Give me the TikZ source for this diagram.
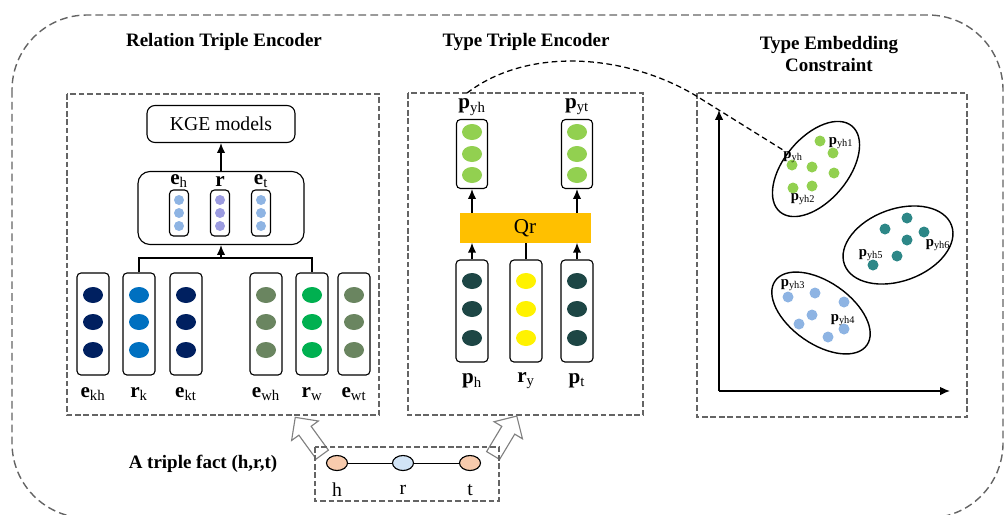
\documentclass[tikz,border=0pt]{standalone}
\usepackage{fontspec}
\setmainfont{Liberation Serif}
\usetikzlibrary{shapes.geometric,shapes.arrows,arrows.meta}

\definecolor{dgray}{RGB}{100,100,100}
\definecolor{navy}{RGB}{0,32,96}
\definecolor{kblue}{RGB}{0,112,192}
\definecolor{wgray}{RGB}{106,133,96}
\definecolor{wgreen}{RGB}{0,176,80}
\definecolor{lblue}{RGB}{142,180,227}
\definecolor{lpurple}{RGB}{155,155,224}
\definecolor{lgreen}{RGB}{146,208,80}
\definecolor{dteal}{RGB}{29,70,69}
\definecolor{qgold}{RGB}{255,192,0}
\definecolor{teal}{RGB}{45,135,135}
\definecolor{peach}{RGB}{248,203,173}
\definecolor{pale}{RGB}{210,228,246}

\newlength\pxu
\setlength\pxu{0.025cm}

\tikzset{
    ttl/.style={font=\bfseries\fontsize{13.5}{15.6}\selectfont, align=center},
    panel/.style={draw=dgray, line width=1pt, dash pattern=on 4pt off 2pt},
    vec/.style={draw, rounded corners=4\pxu, line width=0.8pt, inner sep=0pt, minimum width=32\pxu},
    dot/.style={ellipse, inner sep=0pt, minimum width=20\pxu, minimum height=16\pxu},
    pt/.style={circle, inner sep=0pt, minimum size=11\pxu},
    lab/.style={font=\fontsize{15}{17}\selectfont},
    sml/.style={font=\fontsize{10.5}{12}\selectfont, inner sep=0pt},
    cls/.style={draw, ellipse, line width=1pt, inner sep=0pt},
    hollow/.style={single arrow, draw=gray, fill=white, line width=0.8pt, inner xsep=0pt, inner ysep=7\pxu,
        single arrow head extend=9\pxu, minimum height=46\pxu}
}

\begin{document}
\begin{tikzpicture}[x=0.025cm, y=-0.025cm, >={Latex[length=7pt,width=6pt]}]
    \useasboundingbox (0,0) rectangle (1004,514);

    \draw[draw=dgray, line width=1pt, dash pattern=on 5.5pt off 3pt, rounded corners=75\pxu] (12,15) rectangle (1003,518);

    \node[ttl] (t1) at (224,42) {Relation Triple Encoder};
    \node[ttl] (t2) at (526,42) {Type Triple Encoder};
    \node[ttl] (t3) at (829,54) {Type Embedding\\Constraint};

    \draw[panel] (67,94) rectangle (379,415);
    \draw[panel] (408,93) rectangle (643,415);
    \draw[panel] (697,93) rectangle (967,417);

    % relation triple encoder
    \node[draw, rounded corners=8\pxu, line width=0.8pt, minimum width=148\pxu, minimum height=37\pxu,
        font=\fontsize{14}{16}\selectfont] (kge) at (221,124) {KGE models};
    \node[draw, rounded corners=12\pxu, line width=0.8pt, minimum width=166\pxu, minimum height=73\pxu] (emb) at (221,208) {};
    \foreach \n/\x/\c/\t in {eh/179/lblue/{\textbf{e}\textsubscript{h}}, r/220/lpurple/{\textbf{r}}, et/261/lblue/{\textbf{e}\textsubscript{t}}}{
        \node[vec, minimum width=19\pxu, minimum height=46\pxu] (\n) at (\x,213) {};
        \foreach \y in {200,213,226} \node[circle, inner sep=0pt, minimum size=10\pxu, fill=\c] (\n-\y) at (\x,\y) {};
        \node[lab, inner sep=0pt] (\n-l) at (\x,181) {\t};
    }
    \foreach \n/\x/\c/\t in {ekh/93/navy/{\textbf{e}\textsubscript{kh}}, rk/139/kblue/{\textbf{r}\textsubscript{k}},
        ekt/186/navy/{\textbf{e}\textsubscript{kt}}, ewh/266/wgray/{\textbf{e}\textsubscript{wh}},
        rw/312/wgreen/{\textbf{r}\textsubscript{w}}, ewt/354/wgray/{\textbf{e}\textsubscript{wt}}}{
        \node[vec, minimum height=102\pxu] (\n) at (\x,324) {};
        \foreach \y in {295,322,350} \node[dot, fill=\c] (\n-\y) at (\x,\y) {};
        \node[lab] (\n-l) at (\x,394) {\t};
    }
    \coordinate (j) at (221,258);
    \draw[line width=0.8pt] (rk.north) |- (j) -| (rw.north);
    \draw[->, line width=1pt] (j) -- (emb.south);
    \draw[->, line width=1pt] (emb.north) -- (kge.south);

    % type triple encoder
    \node[draw, fill=qgold, draw=qgold, minimum width=130\pxu, minimum height=29\pxu,
        font=\fontsize{15}{17}\selectfont, inner sep=0pt] (qr) at (525,228) {Qr};
    \foreach \n/\x/\t in {pyh/472/{\textbf{p}\textsubscript{yh}}, pyt/577/{\textbf{p}\textsubscript{yt}}}{
        \node[vec, minimum width=31\pxu, minimum height=69\pxu] (\n) at (\x,154) {};
        \foreach \y in {132,154,175} \node[dot, fill=lgreen] (\n-\y) at (\x,\y) {};
        \node[lab] (\n-l) at (\x,107) {\t};
    }
    \foreach \n/\x/\c/\t in {ph/472/dteal/{\textbf{p}\textsubscript{h}}, ry/526/yellow/{\textbf{r}\textsubscript{y}}, pt/577/dteal/{\textbf{p}\textsubscript{t}}}{
        \node[vec, minimum height=102\pxu] (\n) at (\x,311) {};
        \foreach \y in {281,309,338} \node[dot, fill=\c] (\n-\y) at (\x,\y) {};
        \node[lab] (\n-l) at (\x,381) {\t};
    }
    \draw[->, line width=1pt] (ph.north) -- (ph.north |- qr.south);
    \draw[->, line width=1pt] (pt.north) -- (pt.north |- qr.south);
    \draw[line width=0.8pt] (ry.north) -- (ry.north |- qr.south);
    \draw[->, line width=1pt] (qr.north -| pyh) -- (pyh.south);
    \draw[->, line width=1pt] (qr.north -| pyt) -- (pyt.south);

    % type embedding constraint
    \coordinate (o) at (719,391);
    \coordinate (ytip) at (719,110);
    \coordinate (xtip) at (950,391);
    \draw[->, line width=1pt] (o) -- (ytip);
    \draw[->, line width=1pt] (o) -- (xtip);

    \node[cls, minimum width=112\pxu, minimum height=64\pxu, rotate=50] (c1) at (816,169) {};
    \node[cls, minimum width=114\pxu, minimum height=72\pxu, rotate=20] (c2) at (898,245) {};
    \node[cls, minimum width=112\pxu, minimum height=62\pxu, rotate=-35] (c3) at (821,313) {};
    \foreach \p [count=\i] in {(820,141),(833,153),(792,165),(812,167),(834,173),(793,188),(812,186)}
        \node[pt, fill=lgreen] (g\i) at \p {};
    \foreach \p [count=\i] in {(907,218),(885,229),(924,232),(907,240),(897,256),(873,265)}
        \node[pt, fill=teal] (k\i) at \p {};
    \foreach \p [count=\i] in {(815,293),(788,297),(844,302),(812,315),(799,324),(844,329),(828,337)}
        \node[pt, fill=lblue] (b\i) at \p {};
    \node[sml] (l0) at (793,157) {\textbf{p}\textsubscript{yh}};
    \node[sml] (l1) at (841,143) {\textbf{p}\textsubscript{yh1}};
    \node[sml] (l2) at (803,199) {\textbf{p}\textsubscript{yh2}};
    \node[sml] (l3) at (793,285) {\textbf{p}\textsubscript{yh3}};
    \node[sml] (l4) at (843,320) {\textbf{p}\textsubscript{yh4}};
    \node[sml] (l5) at (871,255) {\textbf{p}\textsubscript{yh5}};
    \node[sml] (l6) at (938,245) {\textbf{p}\textsubscript{yh6}};

    \coordinate (s) at (467,93);
    \coordinate (m) at (698,97);
    \coordinate (e) at (783,150);
    \draw[line width=0.9pt, dash pattern=on 4pt off 2.5pt] (s) .. controls (530,45) and (630,55) .. (m) -- (e);

    % triple fact
    \node[hollow, rotate=126] (a1) at (311,439) {};
    \node[hollow, rotate=59] (a2) at (503,439) {};
    \draw[panel] (315,447) rectangle (499,501);
    \node[font=\bfseries\fontsize{13.5}{16}\selectfont] (tf) at (203,464) {A triple fact (h,r,t)};
    \node[draw, ellipse, fill=peach, line width=0.8pt, minimum width=21\pxu, minimum height=15\pxu, inner sep=0pt] (fh) at (337,463) {};
    \node[draw, ellipse, fill=pale, line width=0.8pt, minimum width=21\pxu, minimum height=15\pxu, inner sep=0pt] (fr) at (403,463) {};
    \node[draw, ellipse, fill=peach, line width=0.8pt, minimum width=21\pxu, minimum height=15\pxu, inner sep=0pt] (ft) at (470,463) {};
    \draw[line width=0.7pt] (fh) -- (fr) -- (ft);
    \node[font=\fontsize{14}{16}\selectfont] (fhl) at (337,490) {h};
    \node[font=\fontsize{14}{16}\selectfont] (frl) at (403,490) {r};
    \node[font=\fontsize{14}{16}\selectfont] (ftl) at (470,490) {t};

\end{tikzpicture}
\end{document}
